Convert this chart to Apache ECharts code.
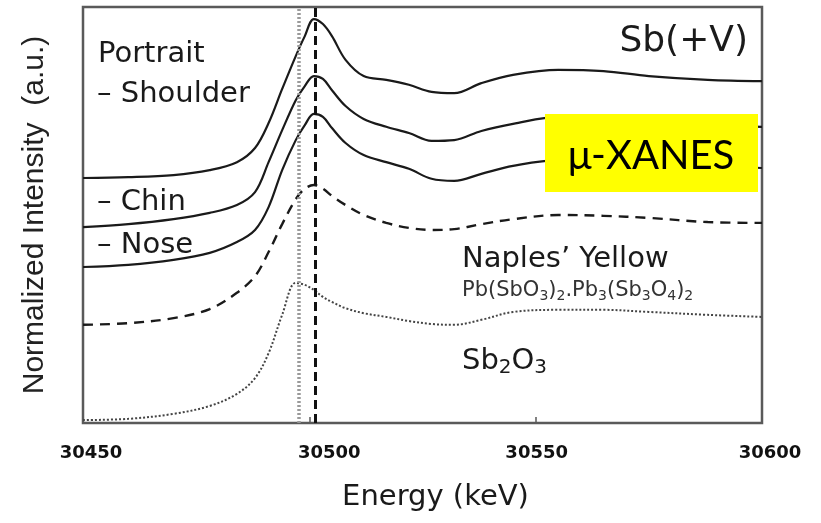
<!DOCTYPE html>
<html>
<head>
<meta charset="utf-8">
<script src="https://cdn.jsdelivr.net/npm/echarts@6/dist/echarts.min.js"></script>
<style>
  html, body { margin: 0; padding: 0; background: #fff; }
  #chart { width: 821px; height: 523px; }
</style>
</head>
<body>
<div id="chart"></div>
<script>
// Sb K-edge XANES spectra, offset vertically for clarity (normalized, a.u.)
const energy = [30450, 30460, 30470, 30478, 30484, 30488, 30491, 30494, 30497, 30499, 30501, 30503, 30505, 30508, 30512, 30517, 30522, 30527, 30532, 30538, 30545, 30555, 30565, 30575, 30588, 30600];

const shoulder = [5.89, 5.91, 5.96, 6.08, 6.27, 6.61, 7.21, 8.03, 8.82, 9.30, 9.71, 9.59, 9.30, 8.73, 8.34, 8.25, 8.13, 7.96, 7.93, 8.17, 8.37, 8.49, 8.46, 8.34, 8.25, 8.22];
const chin     = [4.71, 4.78, 4.90, 5.05, 5.24, 5.55, 6.27, 7.04, 7.76, 8.10, 8.34, 8.27, 8.00, 7.62, 7.31, 7.12, 6.97, 6.78, 6.80, 7.02, 7.19, 7.36, 7.33, 7.26, 7.16, 7.12];
const nose     = [3.75, 3.80, 3.92, 4.09, 4.35, 4.64, 5.19, 6.08, 6.80, 7.16, 7.43, 7.36, 7.09, 6.73, 6.44, 6.27, 6.11, 5.87, 5.82, 5.99, 6.18, 6.32, 6.32, 6.25, 6.18, 6.13];
const naples   = [2.36, 2.40, 2.52, 2.74, 3.13, 3.53, 4.11, 4.78, 5.38, 5.63, 5.72, 5.63, 5.46, 5.24, 5.00, 4.81, 4.69, 4.64, 4.66, 4.78, 4.90, 5.00, 4.98, 4.93, 4.83, 4.81];
const sb2o3    = [0.07, 0.10, 0.22, 0.41, 0.70, 1.08, 1.68, 2.60, 3.37, 3.32, 3.20, 3.03, 2.91, 2.76, 2.64, 2.55, 2.45, 2.38, 2.36, 2.48, 2.67, 2.72, 2.72, 2.67, 2.60, 2.55];

// edge positions: Sb(III) reference (dotted) and Sb(V) white line (dashed)
const edgeSb3 = 30497.7;
const edgeSb5 = 30501.3;

const xTicks = [30450, 30500, 30550, 30600];

const pair = (ys) => energy.map((x, i) => [x, ys[i]]);

const solid = { color: '#1a1a1a', width: 2.2 };
const SMOOTH = 0.35;

const baseText = { fontFamily: 'DejaVu Sans', fontSize: 29, fill: '#1a1a1a', textVerticalAlign: 'middle' };
const label = (text, x, y, extra) => ({ type: 'text', z: 100, style: Object.assign({}, baseText, { text, x, y }, extra || {}) });

const chart = echarts.init(document.getElementById('chart'), null, { renderer: 'canvas' });

chart.setOption({
  animation: false,
  backgroundColor: '#ffffff',
  grid: {
    left: 83, right: 59, top: 7, bottom: 100,
    show: true, borderColor: '#5a5a5a', borderWidth: 2.5, backgroundColor: 'transparent'
  },
  xAxis: {
    type: 'value',
    min: xTicks[0], max: xTicks[xTicks.length - 1], interval: 50,
    name: 'Energy (keV)',
    nameLocation: 'middle',
    nameGap: 60,
    nameTextStyle: { fontFamily: 'DejaVu Sans', fontSize: 29, color: '#1a1a1a', padding: [0, 0, 0, 26] },
    axisLine: { show: false },
    axisTick: { show: true, inside: true, length: 6, lineStyle: { color: '#5a5a5a', width: 1.5 } },
    splitLine: { show: false },
    axisLabel: {
      margin: 21,
      fontFamily: 'DejaVu Sans', fontWeight: 'bold', fontSize: 18, color: '#111',
      formatter: (v) => '{t' + xTicks.indexOf(v) + '|' + v + '}',
      rich: {
        t0: { padding: [0, 0, 0, 16] },
        t1: { padding: [0, 0, 0, 40] },
        t2: { padding: [0, 0, 0, 2] },
        t3: { padding: [0, 0, 0, 16] }
      }
    }
  },
  yAxis: {
    type: 'value',
    min: 0, max: 10,
    name: 'Normalized Intensity  (a.u.)',
    nameLocation: 'middle',
    nameRotate: 90,
    nameGap: 33,
    nameTextStyle: { fontFamily: 'Liberation Sans', fontSize: 30, color: '#222' },
    axisLine: { show: false },
    axisTick: { show: false },
    axisLabel: { show: false },
    splitLine: { show: false }
  },
  series: [
    {
      name: 'Shoulder', type: 'line', data: pair(shoulder),
      smooth: SMOOTH, showSymbol: false, lineStyle: solid,
      markLine: {
        silent: true, symbol: ['none', 'none'], label: { show: false },
        data: [
          { xAxis: edgeSb3, lineStyle: { color: '#9a9a9a', width: 3.5, type: [2, 2] } },
          { xAxis: edgeSb5, lineStyle: { color: '#111', width: 3, type: [9, 5] } }
        ]
      }
    },
    { name: 'Chin', type: 'line', data: pair(chin), smooth: SMOOTH, showSymbol: false, lineStyle: solid },
    { name: 'Nose', type: 'line', data: pair(nose), smooth: SMOOTH, showSymbol: false, lineStyle: solid },
    {
      name: "Naples' Yellow", type: 'line', data: pair(naples), smooth: SMOOTH, showSymbol: false,
      lineStyle: { color: '#1a1a1a', width: 2.4, type: [10, 7] }
    },
    {
      name: 'Sb2O3', type: 'line', data: pair(sb2o3), smooth: SMOOTH, showSymbol: false,
      lineStyle: { color: '#444', width: 2, type: [2, 2] }
    }
  ],
  graphic: [
    label('Portrait', 98, 54),
    label('\u2013 Shoulder', 97, 94),
    label('\u2013 Chin', 97, 202),
    label('\u2013 Nose', 97, 245),
    label('Sb(+V)', 748, 42, { fontSize: 36, textAlign: 'right' }),
    label('Naples\u2019 Yellow', 462, 259),
    label('{n|Pb(SbO}{s|3}{n|)}{s|2}{n|.Pb}{s|3}{n|(Sb}{s|3}{n|O}{s|4}{n|)}{s|2}', 462, 291, {
      fill: '#333',
      rich: {
        n: { fontFamily: 'DejaVu Sans', fontSize: 21, fill: '#333' },
        s: { fontFamily: 'DejaVu Sans', fontSize: 14, fill: '#333', padding: [10, 0, 0, 0] }
      }
    }),
    label('{n|Sb}{s|2}{n|O}{s|3}', 462, 361, {
      rich: {
        n: { fontFamily: 'DejaVu Sans', fontSize: 29, fill: '#1a1a1a' },
        s: { fontFamily: 'DejaVu Sans', fontSize: 20, fill: '#1a1a1a', padding: [13, 0, 0, 0] }
      }
    }),
    { type: 'rect', z: 100, shape: { x: 545, y: 114, width: 213, height: 78 }, style: { fill: '#ffff00' } },
    label('\u03bc-XANES', 651, 156, { fontFamily: 'Lato', fontSize: 40, fill: '#000', textAlign: 'center' })
  ]
});
</script>
</body>
</html>
